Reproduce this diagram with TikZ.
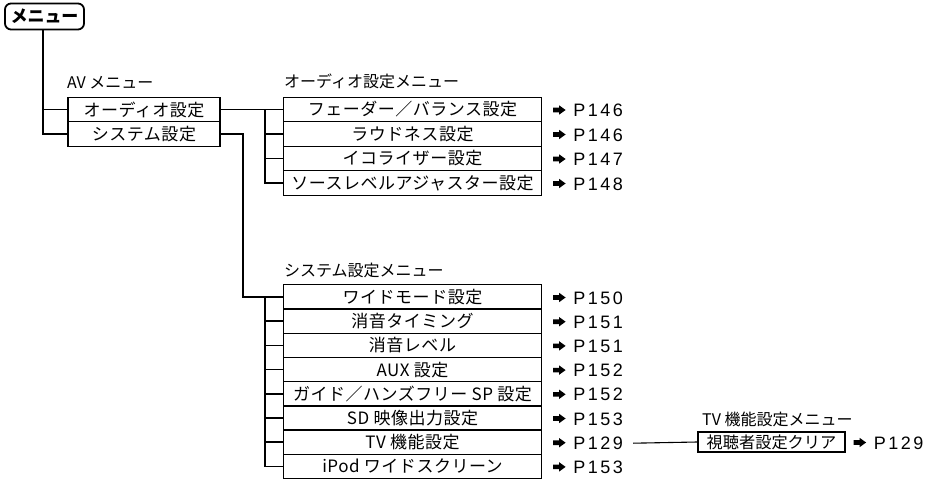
\documentclass[tikz,border=0pt]{standalone}
\usepackage{fontspec}
\setmainfont{Noto Sans CJK JP}
\newfontfamily\boxfont{Noto Sans CJK JP}[LetterSpace=3]
\newfontfamily\reffont{Liberation Sans}[LetterSpace=14]
\begin{document}
\begin{tikzpicture}[x=1pt,y=-1pt,
  lbl/.style={anchor=west,inner sep=0pt,font=\fontsize{16}{17}\selectfont},
  av/.style={draw,line width=1.2pt,minimum width=152pt,minimum height=24.5pt,inner sep=0pt,font=\boxfont\fontsize{17}{18}\selectfont},
  sub/.style={draw,line width=1.2pt,minimum width=258pt,minimum height=24.3pt,inner sep=0pt,font=\boxfont\fontsize{17}{18}\selectfont},
  ref/.style={anchor=west,inner sep=0pt,font=\reffont\fontsize{18}{19}\selectfont},
  conn/.style={line width=1.5pt},
  pgarrow/.style={fill=black,draw=none},
]
\useasboundingbox (0,0) rectangle (946,484);
% top menu
\node[draw,line width=1.8pt,rounded corners=6pt,minimum width=79pt,minimum height=26pt,inner sep=0pt,font=\bfseries\fontsize{17}{18}\selectfont] (menu) at (44.5,16.5) {メニュー};
% labels
\node[lbl] (lav) at (67,82.5) {AV メニュー};
\node[lbl] (laud) at (284,81.5) {オーディオ設定メニュー};
\node[lbl] (lsys) at (284,270) {システム設定メニュー};
\node[lbl] (ltv) at (702,419) {TV 機能設定メニュー};
% AV boxes
\node[av] (av1) at (144,109.5) {オーディオ設定};
\node[av] (av2) at (144,134) {システム設定};
% audio boxes
\node[sub] (a1) at (412.5,109.5) {フェーダー／バランス設定};
\node[sub] (a2) at (412.5,134) {ラウドネス設定};
\node[sub] (a3) at (412.5,158.5) {イコライザー設定};
\node[sub] (a4) at (412.5,183) {ソースレベルアジャスター設定};
% system boxes
\foreach \n/\t [count=\i] in {s1/ワイドモード設定,s2/消音タイミング,s3/消音レベル,s4/AUX 設定,s5/ガイド／ハンズフリー SP 設定,s6/SD 映像出力設定,s7/TV 機能設定,s8/iPod ワイドスクリーン}{
  \node[sub] (\n) at (412.5,{297+24.2*(\i-1)}) {\t};
}
% TV sub box
\node[draw,line width=1.2pt,minimum width=147pt,minimum height=20pt,inner sep=0pt,font=\fontsize{16.2}{17}\selectfont] (tv1) at (771.5,442) {視聴者設定クリア};
% page refs with arrow marks
\foreach \b/\p/\g in {a1/P146/11,a2/P146/11,a3/P147/11,a4/P148/11,s1/P150/11,s2/P151/11,s3/P151/11,s4/P152/11,s5/P152/11,s6/P153/11,s7/P129/11,s8/P153/11,tv1/P129/8}{
  \coordinate (m\b) at ([xshift=\g pt,yshift=-0.5pt]\b.east);
  \fill[pgarrow] (m\b) ++(0,-2.3) -- ++(6,0) -- ++(0,-2.4) -- ++(6.5,4.7) -- ++(-6.5,4.7) -- ++(0,-2.4) -- ++(-6,0) -- cycle;
  \node[ref] (r\b) at ([xshift=20pt,yshift=-0.5pt]m\b) {\p};
}
% connectors
\coordinate (mbar) at (43,0);
\draw[conn] (mbar |- menu.south) |- (av2.west);
\draw[conn] (mbar |- av1.west) -- (av1.west);
\draw[conn] (av1.east) -- (a1.west);
\coordinate (abar) at (265,0);
\draw[conn] (abar |- a1.west) |- (a4.west);
\foreach \b in {a2,a3}{\draw[conn] (abar |- \b.west) -- (\b.west);}
\coordinate (sturn) at (243,0);
\draw[conn] (av2.east) -- (sturn |- av2.east) |- (s1.west);
\coordinate (sbar) at (265,0);
\draw[conn] (sbar |- s1.west) |- (s8.west);
\foreach \b in {s2,s3,s4,s5,s6,s7}{\draw[conn] (sbar |- \b.west) -- (\b.west);}
\draw[line width=1.1pt] ([xshift=10pt]rs7.east) -- (tv1.west);
\end{tikzpicture}
\end{document}
